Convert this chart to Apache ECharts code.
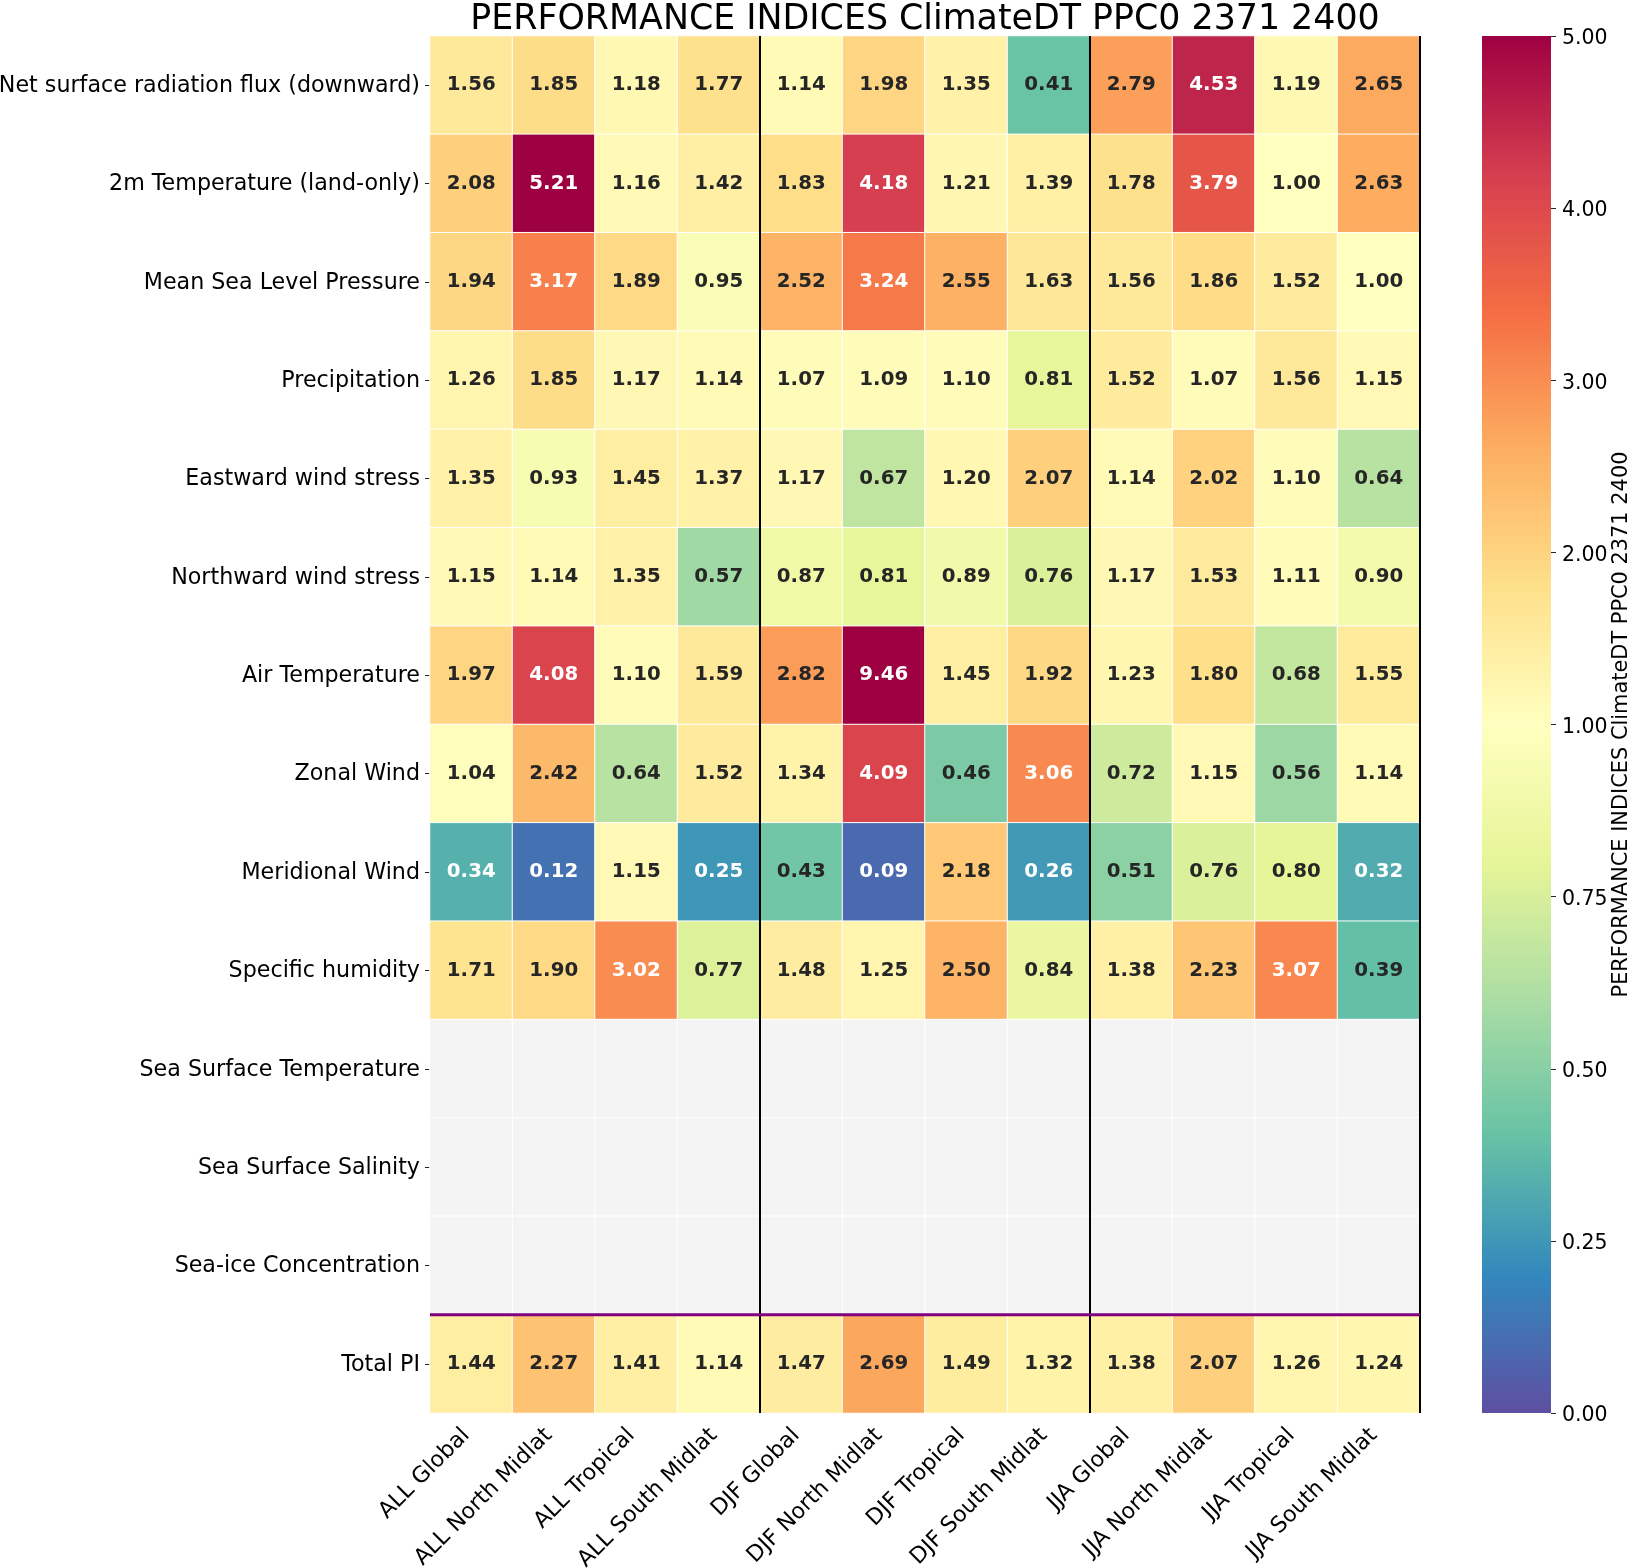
<!DOCTYPE html>
<html>
<head>
<meta charset="utf-8">
<style>html,body{margin:0;padding:0;background:#fff}#c{width:1629px;height:1568px}</style>
<script src="https://cdn.jsdelivr.net/npm/echarts@6/dist/echarts.min.js"></script>
</head>
<body>
<div id="c"></div>
<script>
const titleText = 'PERFORMANCE INDICES ClimateDT PPC0 2371 2400';
const regions = ['ALL Global','ALL North Midlat','ALL Tropical','ALL South Midlat','DJF Global','DJF North Midlat','DJF Tropical','DJF South Midlat','JJA Global','JJA North Midlat','JJA Tropical','JJA South Midlat'];
const variables = ['Net surface radiation flux (downward)','2m Temperature (land-only)','Mean Sea Level Pressure','Precipitation','Eastward wind stress','Northward wind stress','Air Temperature','Zonal Wind','Meridional Wind','Specific humidity','Sea Surface Temperature','Sea Surface Salinity','Sea-ice Concentration','Total PI'];
const netRadiation = [1.56,1.85,1.18,1.77,1.14,1.98,1.35,0.41,2.79,4.53,1.19,2.65];
const temperature2m = [2.08,5.21,1.16,1.42,1.83,4.18,1.21,1.39,1.78,3.79,1.00,2.63];
const seaLevelPressure = [1.94,3.17,1.89,0.95,2.52,3.24,2.55,1.63,1.56,1.86,1.52,1.00];
const precipitation = [1.26,1.85,1.17,1.14,1.07,1.09,1.10,0.81,1.52,1.07,1.56,1.15];
const eastwardStress = [1.35,0.93,1.45,1.37,1.17,0.67,1.20,2.07,1.14,2.02,1.10,0.64];
const northwardStress = [1.15,1.14,1.35,0.57,0.87,0.81,0.89,0.76,1.17,1.53,1.11,0.90];
const airTemperature = [1.97,4.08,1.10,1.59,2.82,9.46,1.45,1.92,1.23,1.80,0.68,1.55];
const zonalWind = [1.04,2.42,0.64,1.52,1.34,4.09,0.46,3.06,0.72,1.15,0.56,1.14];
const meridionalWind = [0.34,0.12,1.15,0.25,0.43,0.09,2.18,0.26,0.51,0.76,0.80,0.32];
const specificHumidity = [1.71,1.90,3.02,0.77,1.48,1.25,2.50,0.84,1.38,2.23,3.07,0.39];
const seaSurfaceTemp = [];
const seaSurfaceSalinity = [];
const seaIce = [];
const totalPI = [1.44,2.27,1.41,1.14,1.47,2.69,1.49,1.32,1.38,2.07,1.26,1.24];
const rows = [netRadiation,temperature2m,seaLevelPressure,precipitation,eastwardStress,northwardStress,airTemperature,zonalWind,meridionalWind,specificHumidity,seaSurfaceTemp,seaSurfaceSalinity,seaIce,totalPI];
const colorbarTicks = ['0.00','0.25','0.50','0.75','1.00','2.00','3.00','4.00','5.00'];
const verticalSeparators = [4,8,12];
const horizontalSeparators = [13];
const spectralR = ['#5e4fa2','#3288bd','#66c2a5','#abdda4','#e6f598','#ffffbf','#fee08b','#fdae61','#f46d43','#d53e4f','#9e0142'];

const FONT = '"DejaVu Sans"';
const norm = v => v <= 1 ? v / 2 : Math.min(1, 0.5 + (v - 1) / 8);
const labelColor = v => (v >= 3 || v <= 0.34) ? '#ffffff' : '#262626';

const cells = [], empties = [];
rows.forEach((row, y) => {
  regions.forEach((_, x) => {
    if (row.length) {
      cells.push({ value: [x, y, row[x], norm(row[x])], label: { color: labelColor(row[x]) } });
    } else {
      empties.push([x, y, 0]);
    }
  });
});

const sepSeries = (pts, color, width) => ({
  type: 'line', xAxisIndex: 2, yAxisIndex: 2, data: pts, showSymbol: false, symbol: 'none', silent: true, clip: false, z: 10,
  lineStyle: { color, width, cap: 'butt' }, animation: false
});

const option = {
  animation: false,
  backgroundColor: '#fff',
  title: { text: titleText, left: 920, top: -3, textAlign: 'center', textStyle: { fontFamily: FONT, fontSize: 34.8, fontWeight: 'normal', color: '#000' } },
  grid: [
    { left: 430, top: 36, width: 990, height: 1377, containLabel: false, outerBoundsMode: 'none' },
    { left: 1482, top: 36, width: 69, height: 1377, containLabel: false, outerBoundsMode: 'none' }
  ],
  xAxis: [
    { type: 'category', gridIndex: 0, data: regions, position: 'bottom',
      axisLine: { show: false }, splitArea: { show: false }, splitLine: { show: false },
      axisTick: { show: true, alignWithLabel: true, length: 5, lineStyle: { color: '#262626', width: 1 } },
      axisLabel: { interval: 0, rotate: 45, margin: 14, padding: [0, 7, 0, 0], fontFamily: FONT, fontSize: 22.2, color: '#000' } },
    { type: 'category', gridIndex: 1, data: ['colorbar'], show: false },
    { type: 'value', gridIndex: 0, min: 0, max: regions.length, show: false }
  ],
  yAxis: [
    { type: 'category', gridIndex: 0, data: variables, inverse: true,
      axisLine: { show: false }, splitArea: { show: false }, splitLine: { show: false },
      axisTick: { show: true, alignWithLabel: true, length: 5, lineStyle: { color: '#262626', width: 1 } },
      axisLabel: { interval: 0, margin: 10, verticalAlign: 'top', lineHeight: 2, fontFamily: FONT, fontSize: 22.2, color: '#000' } },
    { type: 'value', gridIndex: 1, min: 0, max: colorbarTicks.length - 1, interval: 1, position: 'right',
      name: titleText, nameLocation: 'middle', nameRotate: 90, nameGap: 60,
      nameTextStyle: { fontFamily: FONT, fontSize: 20.9, color: '#000' },
      axisLine: { show: false }, splitLine: { show: false },
      axisTick: { show: true, length: 5, lineStyle: { color: '#262626', width: 1 } },
      axisLabel: { margin: 11, verticalAlign: 'top', lineHeight: 6, fontFamily: FONT, fontSize: 20.5, color: '#000', formatter: (v) => colorbarTicks[v] } },
    { type: 'value', gridIndex: 0, min: 0, max: rows.length, inverse: true, show: false }
  ],
  visualMap: { type: 'continuous', show: false, min: 0, max: 1, dimension: 3, seriesIndex: 0, inRange: { color: spectralR } },
  series: [
    { type: 'heatmap', xAxisIndex: 0, yAxisIndex: 0, data: cells,
      itemStyle: { borderColor: '#fff', borderWidth: 1 },
      label: { show: true, fontFamily: FONT, fontWeight: 'bold', fontSize: 19.8, formatter: p => p.value[2].toFixed(2) },
      emphasis: { disabled: true } },
    { type: 'heatmap', xAxisIndex: 0, yAxisIndex: 0, data: empties,
      itemStyle: { color: '#f4f4f4', borderColor: '#fff', borderWidth: 1 },
      label: { show: false }, emphasis: { disabled: true } },
    { type: 'bar', xAxisIndex: 1, yAxisIndex: 1, data: [colorbarTicks.length - 1], barWidth: '100%', silent: true,
      itemStyle: { color: { type: 'linear', x: 0, y: 1, x2: 0, y2: 0,
        colorStops: spectralR.map((c, i) => ({ offset: i / (spectralR.length - 1), color: c })) } } },
    ...verticalSeparators.map(x => sepSeries([[x, 0], [x, rows.length]], '#000', 2)),
    ...horizontalSeparators.map(y => sepSeries([[0, y], [regions.length, y]], '#800080', 3))
  ]
};
const chart = echarts.init(document.getElementById('c'), null, { renderer: 'canvas' });
chart.setOption(option);
</script>
</body>
</html>
